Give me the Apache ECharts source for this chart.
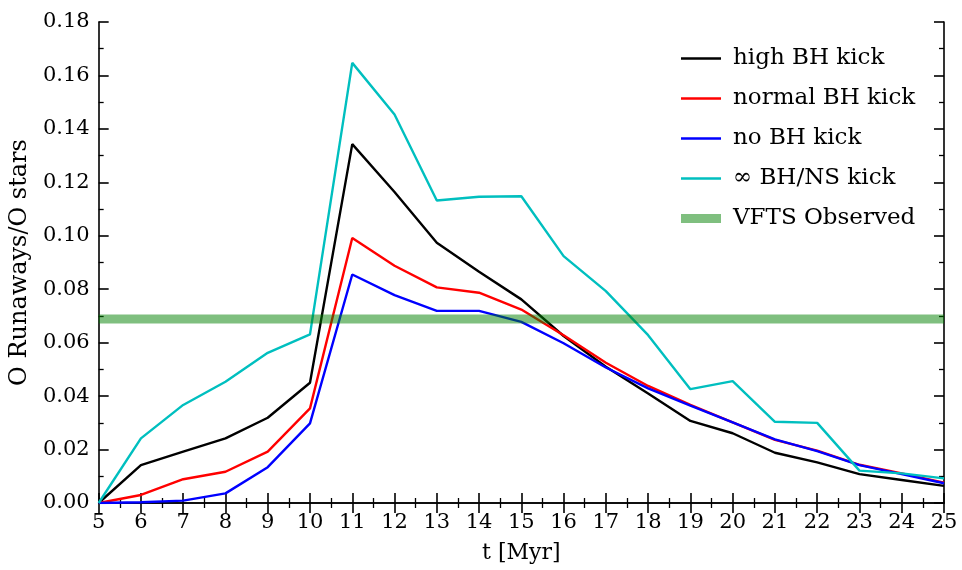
<!DOCTYPE html>
<html>
<head>
<meta charset="utf-8">
<script src="https://cdn.jsdelivr.net/npm/echarts@6/dist/echarts.min.js"></script>
<style>html,body{margin:0;padding:0;background:#fff}#c{width:962px;height:570px}</style>
</head>
<body>
<div id="c"></div>
<script>
const times = [5,6,7,8,9,10,11,12,13,14,15,16,17,18,19,20,21,22,23,24,25];
const highBH   = [0,0.0142,0.0192,0.0242,0.0319,0.0450,0.1343,0.1164,0.0974,0.0865,0.0762,0.0625,0.0510,0.0410,0.0307,0.0261,0.0188,0.0152,0.0108,0.0086,0.0064];
const normalBH = [0,0.0030,0.0089,0.0117,0.0192,0.0354,0.0992,0.0888,0.0807,0.0787,0.0724,0.0628,0.0525,0.0438,0.0367,0.0302,0.0236,0.0196,0.0143,0.0111,0.0076];
const noBH     = [0,0.0003,0.0009,0.0036,0.0134,0.0298,0.0855,0.0778,0.0719,0.0719,0.0678,0.0598,0.0507,0.0429,0.0364,0.0302,0.0238,0.0194,0.0142,0.0108,0.0074];
const infBH    = [0,0.0242,0.0367,0.0454,0.0562,0.0631,0.1647,0.1454,0.1132,0.1146,0.1148,0.0924,0.0793,0.0628,0.0426,0.0456,0.0304,0.0300,0.0121,0.0111,0.0092];
const vftsObserved = 0.0689;
const seriesNames = ['high BH kick','normal BH kick','no BH kick','\u221E BH/NS kick','VFTS Observed'];

const FONT = '"DejaVu Serif", "Liberation Serif", serif';
const pairs = arr => times.map((t,i)=>[t,arr[i]]);
const lineS = (name, arr, color) => ({
  name, type:'line', data: pairs(arr), symbol:'none', showSymbol:false,
  lineStyle:{color, width:2.4}, itemStyle:{color}, animation:false
});
const mkAxis = (extra) => Object.assign({
  axisLine:{lineStyle:{color:'#000', width:1.6}},
  axisTick:{inside:true, length:10, lineStyle:{color:'#000', width:1.6}},
  minorTick:{show:true, splitNumber:2, length:5, lineStyle:{color:'#000', width:1.3}},
  splitLine:{show:false}
}, extra);
const thinLine = 'path://M0,0H40V2.4H0Z';
const thickLine = 'path://M0,0H40V9H0Z';
const chart = echarts.init(document.getElementById('c'));
chart.setOption({
  backgroundColor:'#fff',
  animation:false,
  grid:{left:97, right:18, top:22, bottom:67},
  legend:{
    left:676, top:40, orient:'vertical', itemWidth:40, itemHeight:14, itemGap:13,
    symbolKeepAspect:true,
    textStyle:{fontFamily:FONT, fontSize:23, color:'#000', lineHeight:27, padding:[0,0,0,7]},
    data: seriesNames.map((n,i)=>({name:n, icon: i===4 ? thickLine : thinLine}))
  },
  xAxis:[
    mkAxis({type:'value', min:5, max:25, interval:1, position:'bottom',
      name:'t [Myr]', nameLocation:'middle', nameGap:39,
      nameTextStyle:{fontFamily:FONT, fontSize:22, color:'#000'},
      axisLabel:{fontFamily:FONT, fontSize:21, color:'#000', margin:9}}),
    mkAxis({type:'value', min:5, max:25, interval:1, position:'top',
      axisLabel:{show:false}})
  ],
  yAxis:[
    mkAxis({type:'value', min:0, max:0.18, interval:0.02, position:'left',
      name:'O Runaways/O stars', nameLocation:'middle', nameGap:62,
      nameTextStyle:{fontFamily:FONT, fontSize:24, color:'#000'},
      axisLabel:{fontFamily:FONT, fontSize:21, color:'#000', margin:9, formatter:v=>v.toFixed(2)}}),
    mkAxis({type:'value', min:0, max:0.18, interval:0.02, position:'right',
      axisLabel:{show:false}})
  ],
  series:[
    lineS(seriesNames[0], highBH, '#000000'),
    lineS(seriesNames[1], normalBH, '#ff0000'),
    lineS(seriesNames[2], noBH, '#0000ff'),
    lineS(seriesNames[3], infBH, '#00bfbf'),
    {name:seriesNames[4], type:'line', symbol:'none', z:3,
     data:[[times[0],vftsObserved],[times[times.length-1],vftsObserved]],
     lineStyle:{color:'rgba(0,128,0,0.5)', width:9}, itemStyle:{color:'rgba(0,128,0,0.5)'}}
  ]
});
</script>
</body>
</html>
